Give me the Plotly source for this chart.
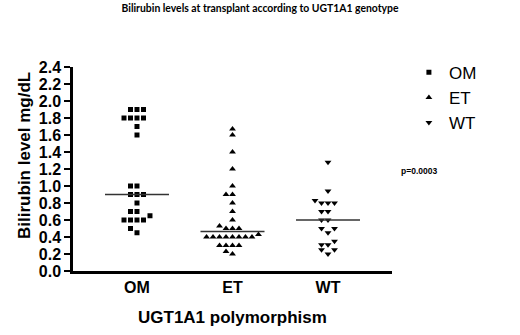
import plotly.graph_objects as go

# ---- data ----
categories = ["OM", "ET", "WT"]
om_values = [1.9, 1.9, 1.9, 1.8, 1.8, 1.8, 1.8, 1.7, 1.6,
             1.0, 1.0, 0.9, 0.9, 0.9, 0.8, 0.7, 0.7, 0.65,
             0.6, 0.6, 0.6, 0.6, 0.5, 0.45]
et_values = [1.67, 1.6, 1.4, 1.2, 1.0, 0.9, 0.9, 0.8, 0.7, 0.6, 0.53,
             0.5, 0.5, 0.5, 0.43, 0.4, 0.4, 0.4, 0.4, 0.4, 0.4, 0.4, 0.4,
             0.3, 0.3, 0.3, 0.3, 0.23, 0.2]
wt_values = [1.28, 0.94, 0.83, 0.8, 0.8, 0.8, 0.7, 0.7, 0.6, 0.6,
             0.5, 0.5, 0.45, 0.35, 0.31, 0.31, 0.25, 0.25, 0.2]
medians = [0.9, 0.465, 0.6]
y_ticks = [0.0, 0.2, 0.4, 0.6, 0.8, 1.0, 1.2, 1.4, 1.6, 1.8, 2.0, 2.2, 2.4]
p_value_text = "p=0.0003"

series = [om_values, et_values, wt_values]
symbols = ["square", "triangle-up", "triangle-down"]
sizes = [5, 6, 6]

STEP = 0.068      # horizontal spacing of swarm slots (category units)
COLLIDE = 0.06    # vertical closeness that forces a new slot
HALF_LINE = 0.335 # half width of the median line


def swarm(values):
    """Simple dot-plot layout: ascending values, slots 0,-1,1,-2,2,..."""
    order = sorted(range(len(values)), key=lambda i: values[i])
    placed = []
    offs = [0.0] * len(values)
    slots = [0]
    for k in range(1, 20):
        slots += [-k, k]
    for i in order:
        v = values[i]
        taken = {s for (pv, s) in placed if abs(pv - v) < COLLIDE - 1e-9}
        for s in slots:
            if s not in taken:
                placed.append((v, s))
                offs[i] = s * STEP
                break
    return offs


fig = go.Figure()
for ci, (cat, vals) in enumerate(zip(categories, series)):
    offs = swarm(vals)
    fig.add_trace(go.Scatter(
        x=[ci + o for o in offs], y=vals, mode="markers", name=cat,
        marker=dict(symbol=symbols[ci], size=sizes[ci], color="black",
                    line=dict(width=0)),
        cliponaxis=False,
    ))

for ci, m in enumerate(medians):
    fig.add_trace(go.Scatter(
        x=[ci - HALF_LINE, ci + HALF_LINE], y=[m, m], mode="lines",
        line=dict(color="#333333", width=1.5), showlegend=False,
        hoverinfo="skip"))

fig.update_layout(
    width=520, height=335,
    margin=dict(l=73, r=128, t=67, b=64),
    paper_bgcolor="white", plot_bgcolor="white",
    title=dict(text="Bilirubin levels at transplant according to UGT1A1 genotype",
               x=0.5, xanchor="center", y=1 - 8 / 335, yanchor="middle",
               font=dict(family="Lato", size=10.4, color="black", weight="bold")),
    xaxis=dict(range=[-0.67, 2.67], tickvals=[0, 1, 2], ticktext=categories,
               ticks="", showline=True, linewidth=2.5, linecolor="black",
               showgrid=False, zeroline=False,
               tickfont=dict(family="Liberation Sans", size=16, color="black",
                             weight="bold")),
    yaxis=dict(range=[0, 2.4], tickvals=y_ticks,
               ticktext=[f"{v:.1f}" for v in y_ticks],
               ticks="outside", ticklen=6, tickwidth=2, tickcolor="black",
               showline=True, linewidth=2.5, linecolor="black",
               showgrid=False, zeroline=False,
               tickfont=dict(family="Liberation Sans", size=16, color="black",
                             weight="bold")),
    legend=dict(x=1.053, y=1.06, xanchor="left", yanchor="top",
                font=dict(family="Liberation Sans", size=17, color="black"),
                itemsizing="trace", bgcolor="rgba(0,0,0,0)"),
    annotations=[
        dict(text="UGT1A1 polymorphism", xref="paper", yref="paper",
             x=0.5, y=(271 - 317) / 204, xanchor="center", yanchor="middle",
             showarrow=False,
             font=dict(family="Liberation Sans", size=17, color="black",
                       weight="bold")),
        dict(text="Bilirubin level mg/dL", xref="paper", yref="paper",
             x=(25 - 73) / 319, y=0.564, xanchor="center", yanchor="middle",
             textangle=-90, showarrow=False,
             font=dict(family="Liberation Sans", size=17, color="black",
                       weight="bold")),
        dict(text=p_value_text, xref="paper", yref="paper",
             x=(418.5 - 73) / 319, y=(271 - 171) / 204,
             xanchor="center", yanchor="middle", showarrow=False,
             font=dict(family="Liberation Sans", size=8.5, color="black",
                       weight="bold")),
    ],
)

fig.write_html("out.html",
               config={"displayModeBar": False},
               post_script="document.body.style.margin='0';")
